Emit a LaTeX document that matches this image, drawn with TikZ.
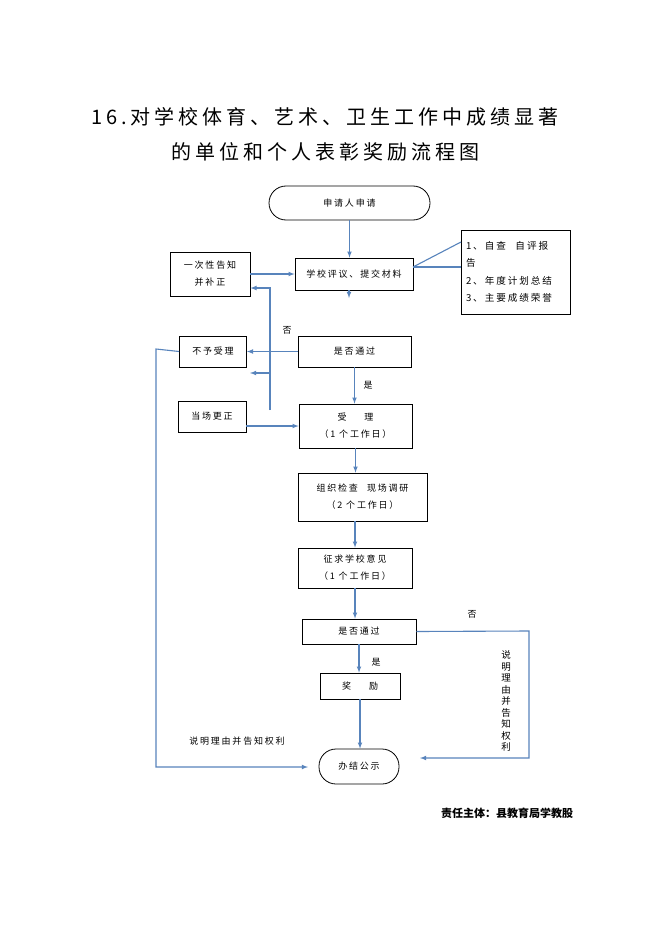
\documentclass[tikz,border=0pt]{standalone}
\usepackage{fontspec}
\setmainfont{Noto Sans CJK SC}
\newfontfamily\cjk[LetterSpace=20]{Noto Sans CJK SC}
\newfontfamily\cjkplain{Noto Sans CJK SC}
\usetikzlibrary{arrows}
\definecolor{linkblue}{RGB}{88,132,188}

\tikzset{
  box/.style={draw, line width=0.8pt, inner sep=2pt, align=center, font=\cjk\fontsize{9}{17}\selectfont},
  oval/.style={box, rounded corners=17pt},
  link/.style={draw=linkblue, line width=1.1pt, ->, >=latex},
  line/.style={draw=linkblue, line width=1.1pt},
  lab/.style={font=\cjk\fontsize{9}{11}\selectfont},
}

\begin{document}
\begin{tikzpicture}[x=1pt,y=-1pt]
\fill[white] (0,0) rectangle (662,936);
\useasboundingbox (0,0) rectangle (662,936);

\node[font=\cjk\fontsize{20}{24}\selectfont] (title1) at (325,117) {16.对学校体育、艺术、卫生工作中成绩显著};
\node[font=\cjk\fontsize{20}{24}\selectfont] (title2) at (325,152) {的单位和个人表彰奖励流程图};

% boxes
\node[oval, minimum width=161pt, minimum height=34pt] (apply) at (349.5,203) {申请人申请};
\node[box, minimum width=118pt, minimum height=32pt] (review) at (354,274) {学校评议、提交材料};
\node[box, minimum width=109pt, minimum height=84pt, text width=99pt, inner sep=5pt, align=left, font=\cjk\fontsize{9.6}{17.5}\selectfont] (list) at (515.5,272) {1、自查\quad 自评报\\告\\2、年度计划总结\\3、主要成绩荣誉};
\node[box, minimum width=80pt, minimum height=44pt] (fix) at (210,274) {一次性告知\\并补正};
\node[box, minimum width=113pt, minimum height=31pt] (pass1) at (354.5,351.5) {是否通过};
\node[box, minimum width=67pt, minimum height=31pt] (reject) at (213,351.5) {不予受理};
\node[box, minimum width=68pt, minimum height=31pt] (spot) at (212,416.5) {当场更正};
\node[box, minimum width=113pt, minimum height=44pt] (accept) at (355.5,426) {受\quad\quad 理\\（1 个工作日）};
\node[box, minimum width=129pt, minimum height=48pt] (inspect) at (362.5,497) {组织检查\quad 现场调研\\（2 个工作日）};
\node[box, minimum width=114pt, minimum height=40pt] (opinion) at (355,568) {征求学校意见\\（1 个工作日）};
\node[box, minimum width=114pt, minimum height=25pt] (pass2) at (359,631.5) {是否通过};
\node[box, minimum width=80pt, minimum height=26pt] (award) at (360,686) {奖\quad\quad 励};
\node[oval, minimum width=80pt, minimum height=35pt] (done) at (359,766.5) {办结公示};

% labels
\node[lab] (no1) at (287,330) {否};
\node[lab] (yes1) at (368,385) {是};
\node[lab] (no2) at (472,614) {否};
\node[lab] (yes2) at (376,662) {是};
\node[lab] (why1) at (237,741) {说明理由并告知权利};
\node[font=\cjkplain\fontsize{9.5}{11.5}\selectfont, align=center] (why2) at (506,701) {说\\明\\理\\由\\并\\告\\知\\权\\利};
\node[font=\cjkplain\bfseries\fontsize{11}{13}\selectfont] (owner) at (507,813) {责任主体：县教育局学教股};

% connectors
\coordinate (tip1) at (349,298);
\coordinate (r1) at (413,267);
\coordinate (r2) at (461,242);
\coordinate (v1) at (270,410);
\coordinate (v2) at (270,288);
\coordinate (v3) at (270,373);
\coordinate (v4) at (250,373);
\coordinate (e1) at (529,631);
\coordinate (e2) at (529,758);
\coordinate (e3) at (420,758);
\coordinate (w1) at (156,349);
\coordinate (w2) at (156,767);
\coordinate (w3) at (308,767);

\draw[link] (apply.south) -- (apply.south |- review.north);
\draw[link] (review.south -| tip1) -- (tip1);
\draw[line] (r1) -- (r2);
\draw[line] (r1) -- (r1 -| list.west);
\draw[link] (fix.east) -- (review.west);
\draw[link] (v1) -- (v2) -- (fix.east |- v2);
\draw[link] (v3) -- (v4);
\draw[link] (pass1.west) -- (reject.east);
\draw[link] (pass1.south) -- (pass1.south |- accept.north);
\draw[link] (spot.east |- accept.west) -- (accept.west);
\draw[link] (accept.south) -- (accept.south |- inspect.north);
\draw[link] (opinion.north |- inspect.south) -- (opinion.north);
\draw[link] (opinion.south) -- (opinion.south |- pass2.north);
\draw[link] (pass2.south) -- (pass2.south |- award.north);
\draw[link] (award.south) -- (award.south |- done.north);
\draw[link] (pass2.east) -- (e1) -- (e2) -- (e3);
\draw[link] (reject.west) -- (w1) -- (w2) -- (w3);

\end{tikzpicture}
\end{document}
